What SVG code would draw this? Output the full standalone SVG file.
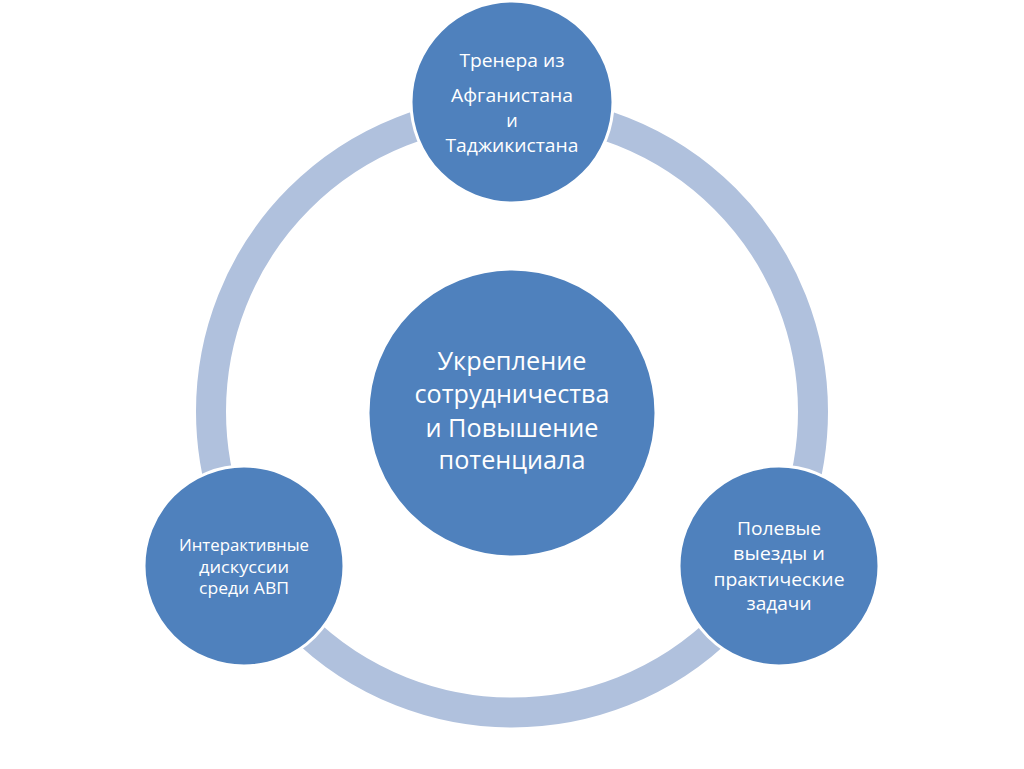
<svg xmlns="http://www.w3.org/2000/svg" width="1024" height="769" viewBox="0 0 1024 769">
<style>
.node{fill:#4F81BD;stroke:#FFFFFF;stroke-width:3}
.ring{fill:none;stroke:#B0C1DD;stroke-width:30}
.t{fill:#FFFFFF;font-family:"Open Sans","Noto Sans","Liberation Sans",sans-serif;text-anchor:middle}
.big{font-size:25px}
.mid{font-size:18px}
.sm{font-size:16.5px}
</style>
<rect width="1024" height="769" fill="#FFFFFF"/>
<g id="connectors">
<circle class="ring" cx="512" cy="411.5" r="301"/>
</g>
<g id="center">
<circle class="node" cx="512" cy="413" r="144"/>
<text class="t big" x="512" y="370" textLength="149" lengthAdjust="spacingAndGlyphs">Укрепление</text>
<text class="t big" x="512" y="403" textLength="195" lengthAdjust="spacingAndGlyphs">сотрудничества</text>
<text class="t big" x="512" y="437" textLength="173" lengthAdjust="spacingAndGlyphs">и Повышение</text>
<text class="t big" x="512" y="469" textLength="147" lengthAdjust="spacingAndGlyphs">потенциала</text>
</g>
<g id="top">
<circle class="node" cx="512" cy="102" r="101"/>
<text class="t mid" x="512" y="67" textLength="105" lengthAdjust="spacingAndGlyphs">Тренера из</text>
<text class="t mid" x="512" y="102" textLength="122" lengthAdjust="spacingAndGlyphs">Афганистана</text>
<text class="t mid" x="512" y="127">и</text>
<text class="t mid" x="512" y="152" textLength="133" lengthAdjust="spacingAndGlyphs">Таджикистана</text>
</g>
<g id="left">
<circle class="node" cx="244" cy="566" r="100"/>
<text class="t sm" x="244" y="551" textLength="130" lengthAdjust="spacingAndGlyphs">Интерактивные</text>
<text class="t sm" x="244" y="573" textLength="90" lengthAdjust="spacingAndGlyphs">дискуссии</text>
<text class="t sm" x="244" y="594" textLength="90" lengthAdjust="spacingAndGlyphs">среди АВП</text>
</g>
<g id="right">
<circle class="node" cx="779" cy="566" r="100"/>
<text class="t mid" x="779" y="535" textLength="84" lengthAdjust="spacingAndGlyphs">Полевые</text>
<text class="t mid" x="779" y="560" textLength="92" lengthAdjust="spacingAndGlyphs">выезды и</text>
<text class="t mid" x="779" y="586" textLength="131" lengthAdjust="spacingAndGlyphs">практические</text>
<text class="t mid" x="779" y="610" textLength="65" lengthAdjust="spacingAndGlyphs">задачи</text>
</g>
</svg>
